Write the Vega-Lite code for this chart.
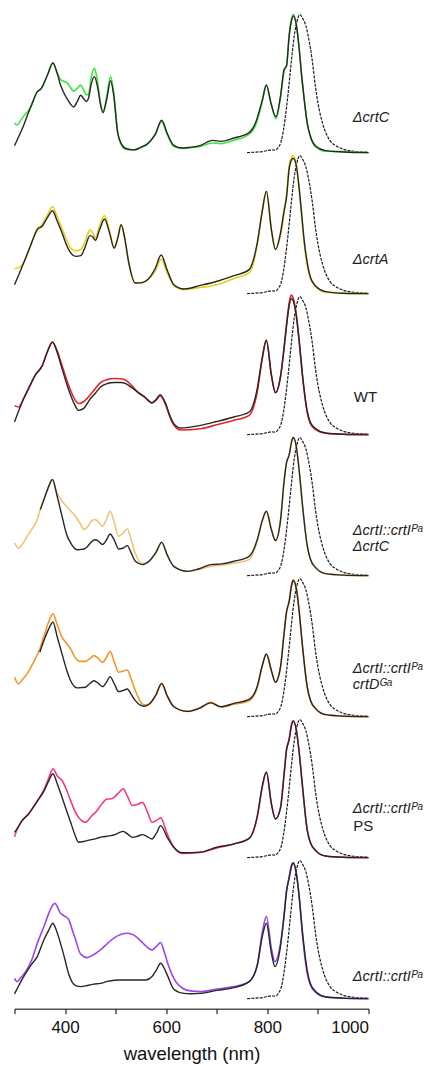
{
  "$schema": "https://vega.github.io/schema/vega-lite/v6.json",
  "padding": {"left": 10.5, "top": 11, "right": 0, "bottom": 0},
  "background": "white",
  "config": {"view": {"stroke": null}, "font": "Liberation Sans"},
  "bounds": "flush",
  "spacing": 0,
  "datasets": {
    "em": [
      {"x": 760, "y": 0.0}, {"x": 775, "y": 0.003}, {"x": 790, "y": 0.008}, {"x": 800, "y": 0.015}, {"x": 808, "y": 0.02}, {"x": 815, "y": 0.018}, {"x": 822, "y": 0.04}, {"x": 828, "y": 0.09}, {"x": 832, "y": 0.167}, {"x": 838, "y": 0.33}, {"x": 843, "y": 0.5}, {"x": 848, "y": 0.68}, {"x": 853, "y": 0.84}, {"x": 858, "y": 0.94}, {"x": 864, "y": 1.0}, {"x": 870, "y": 0.97}, {"x": 876, "y": 0.92}, {"x": 882, "y": 0.82}, {"x": 889, "y": 0.66}, {"x": 895, "y": 0.48}, {"x": 900, "y": 0.36}, {"x": 909, "y": 0.215}, {"x": 916, "y": 0.14}, {"x": 925, "y": 0.082}, {"x": 938, "y": 0.045}, {"x": 952, "y": 0.022}, {"x": 970, "y": 0.01}, {"x": 1000, "y": 0.003}
    ],
    "p1": [
      {"x": 300, "k": 0.05, "c": 0.215}, {"x": 305, "k": 0.09, "c": 0.2}, {"x": 315, "k": 0.17, "c": 0.25}, {"x": 332, "k": 0.33, "c": 0.33}, {"x": 345, "k": 0.44, "c": 0.44}, {"x": 352, "k": 0.46, "c": 0.46}, {"x": 365, "k": 0.56, "c": 0.56}, {"x": 376, "k": 0.65, "c": 0.65}, {"x": 384, "k": 0.58, "c": 0.58}, {"x": 391, "k": 0.49, "c": 0.53}, {"x": 398, "k": 0.43, "c": 0.515}, {"x": 404, "k": 0.39, "c": 0.505}, {"x": 411, "k": 0.35, "c": 0.47}, {"x": 417, "k": 0.33, "c": 0.445}, {"x": 424, "k": 0.37, "c": 0.465}, {"x": 431, "k": 0.415, "c": 0.49}, {"x": 437, "k": 0.39, "c": 0.45}, {"x": 442, "k": 0.37, "c": 0.42}, {"x": 446, "k": 0.39, "c": 0.42}, {"x": 452, "k": 0.5, "c": 0.55}, {"x": 458, "k": 0.55, "c": 0.61}, {"x": 464, "k": 0.48, "c": 0.52}, {"x": 470, "k": 0.35, "c": 0.36}, {"x": 475, "k": 0.29, "c": 0.29}, {"x": 482, "k": 0.38, "c": 0.4}, {"x": 490, "k": 0.52, "c": 0.55}, {"x": 496, "k": 0.42, "c": 0.44}, {"x": 504, "k": 0.145, "c": 0.15}, {"x": 512, "k": 0.06, "c": 0.05}, {"x": 520, "k": 0.03, "c": 0.025}, {"x": 536, "k": 0.02, "c": 0.02}, {"x": 550, "k": 0.04, "c": 0.035}, {"x": 563, "k": 0.065, "c": 0.06}, {"x": 578, "k": 0.13, "c": 0.13}, {"x": 591, "k": 0.234, "c": 0.225}, {"x": 602, "k": 0.14, "c": 0.13}, {"x": 615, "k": 0.053, "c": 0.045}, {"x": 632, "k": 0.034, "c": 0.03}, {"x": 650, "k": 0.04, "c": 0.035}, {"x": 668, "k": 0.053, "c": 0.045}, {"x": 691, "k": 0.089, "c": 0.07}, {"x": 708, "k": 0.082, "c": 0.065}, {"x": 734, "k": 0.106, "c": 0.09}, {"x": 763, "k": 0.143, "c": 0.13}, {"x": 777, "k": 0.22, "c": 0.2}, {"x": 790, "k": 0.38, "c": 0.37}, {"x": 798, "k": 0.49, "c": 0.49}, {"x": 807, "k": 0.36, "c": 0.36}, {"x": 817, "k": 0.26, "c": 0.245}, {"x": 826, "k": 0.41, "c": 0.4}, {"x": 833, "k": 0.6, "c": 0.59}, {"x": 838, "k": 0.63, "c": 0.63}, {"x": 843, "k": 0.84, "c": 0.85}, {"x": 848, "k": 0.96, "c": 0.97}, {"x": 851, "k": 0.99, "c": 1.0}, {"x": 857, "k": 0.93, "c": 0.94}, {"x": 863, "k": 0.75, "c": 0.75}, {"x": 868, "k": 0.55, "c": 0.55}, {"x": 873, "k": 0.38, "c": 0.38}, {"x": 879, "k": 0.21, "c": 0.21}, {"x": 885, "k": 0.12, "c": 0.115}, {"x": 896, "k": 0.046, "c": 0.04}, {"x": 915, "k": 0.015, "c": 0.01}, {"x": 950, "k": 0.005, "c": 0.008}, {"x": 1000, "k": 0.0, "c": 0.0}
    ],
    "p2": [
      {"x": 300, "k": 0.065, "c": 0.18}, {"x": 310, "k": 0.15, "c": 0.19}, {"x": 318, "k": 0.222, "c": 0.222}, {"x": 332, "k": 0.35, "c": 0.35}, {"x": 345, "k": 0.464, "c": 0.47}, {"x": 355, "k": 0.49, "c": 0.5}, {"x": 365, "k": 0.55, "c": 0.57}, {"x": 375, "k": 0.6, "c": 0.63}, {"x": 384, "k": 0.53, "c": 0.56}, {"x": 394, "k": 0.44, "c": 0.47}, {"x": 403, "k": 0.35, "c": 0.39}, {"x": 411, "k": 0.295, "c": 0.33}, {"x": 421, "k": 0.27, "c": 0.31}, {"x": 431, "k": 0.275, "c": 0.319}, {"x": 440, "k": 0.34, "c": 0.38}, {"x": 449, "k": 0.42, "c": 0.46}, {"x": 455, "k": 0.41, "c": 0.44}, {"x": 460, "k": 0.386, "c": 0.403}, {"x": 468, "k": 0.46, "c": 0.49}, {"x": 478, "k": 0.54, "c": 0.565}, {"x": 488, "k": 0.44, "c": 0.45}, {"x": 497, "k": 0.33, "c": 0.33}, {"x": 504, "k": 0.4, "c": 0.4}, {"x": 511, "k": 0.5, "c": 0.5}, {"x": 518, "k": 0.4, "c": 0.4}, {"x": 526, "k": 0.222, "c": 0.222}, {"x": 539, "k": 0.077, "c": 0.077}, {"x": 553, "k": 0.08, "c": 0.08}, {"x": 563, "k": 0.1, "c": 0.1}, {"x": 578, "k": 0.18, "c": 0.16}, {"x": 590, "k": 0.28, "c": 0.25}, {"x": 602, "k": 0.17, "c": 0.15}, {"x": 615, "k": 0.065, "c": 0.06}, {"x": 635, "k": 0.034, "c": 0.03}, {"x": 668, "k": 0.06, "c": 0.045}, {"x": 701, "k": 0.09, "c": 0.065}, {"x": 734, "k": 0.13, "c": 0.11}, {"x": 764, "k": 0.174, "c": 0.15}, {"x": 780, "k": 0.367, "c": 0.35}, {"x": 790, "k": 0.6, "c": 0.6}, {"x": 798, "k": 0.74, "c": 0.74}, {"x": 808, "k": 0.464, "c": 0.46}, {"x": 816, "k": 0.32, "c": 0.32}, {"x": 826, "k": 0.44, "c": 0.42}, {"x": 833, "k": 0.6, "c": 0.58}, {"x": 838, "k": 0.7, "c": 0.72}, {"x": 843, "k": 0.9, "c": 0.92}, {"x": 848, "k": 0.97, "c": 0.99}, {"x": 851, "k": 0.98, "c": 1.0}, {"x": 857, "k": 0.93, "c": 0.94}, {"x": 863, "k": 0.76, "c": 0.75}, {"x": 868, "k": 0.57, "c": 0.55}, {"x": 873, "k": 0.38, "c": 0.36}, {"x": 879, "k": 0.222, "c": 0.2}, {"x": 885, "k": 0.12, "c": 0.11}, {"x": 896, "k": 0.053, "c": 0.05}, {"x": 915, "k": 0.015, "c": 0.01}, {"x": 950, "k": 0.003, "c": 0.003}, {"x": 1000, "k": 0.0, "c": 0.0}
    ],
    "p3": [
      {"x": 300, "k": 0.092, "c": 0.21}, {"x": 308, "k": 0.17, "c": 0.2}, {"x": 318, "k": 0.26, "c": 0.26}, {"x": 330, "k": 0.35, "c": 0.35}, {"x": 341, "k": 0.43, "c": 0.43}, {"x": 355, "k": 0.5, "c": 0.5}, {"x": 365, "k": 0.6, "c": 0.6}, {"x": 375, "k": 0.67, "c": 0.67}, {"x": 384, "k": 0.6, "c": 0.61}, {"x": 394, "k": 0.478, "c": 0.5}, {"x": 403, "k": 0.37, "c": 0.4}, {"x": 411, "k": 0.285, "c": 0.32}, {"x": 420, "k": 0.21, "c": 0.25}, {"x": 427, "k": 0.176, "c": 0.225}, {"x": 437, "k": 0.19, "c": 0.24}, {"x": 450, "k": 0.26, "c": 0.29}, {"x": 460, "k": 0.3, "c": 0.335}, {"x": 470, "k": 0.345, "c": 0.377}, {"x": 484, "k": 0.37, "c": 0.4}, {"x": 497, "k": 0.377, "c": 0.406}, {"x": 510, "k": 0.377, "c": 0.405}, {"x": 520, "k": 0.37, "c": 0.394}, {"x": 532, "k": 0.34, "c": 0.355}, {"x": 543, "k": 0.31, "c": 0.31}, {"x": 558, "k": 0.27, "c": 0.27}, {"x": 572, "k": 0.23, "c": 0.23}, {"x": 580, "k": 0.255, "c": 0.25}, {"x": 588, "k": 0.29, "c": 0.28}, {"x": 599, "k": 0.225, "c": 0.215}, {"x": 607, "k": 0.14, "c": 0.13}, {"x": 615, "k": 0.08, "c": 0.07}, {"x": 629, "k": 0.048, "c": 0.034}, {"x": 668, "k": 0.067, "c": 0.043}, {"x": 700, "k": 0.095, "c": 0.072}, {"x": 734, "k": 0.128, "c": 0.104}, {"x": 764, "k": 0.164, "c": 0.14}, {"x": 780, "k": 0.333, "c": 0.31}, {"x": 790, "k": 0.56, "c": 0.55}, {"x": 798, "k": 0.683, "c": 0.683}, {"x": 808, "k": 0.43, "c": 0.43}, {"x": 816, "k": 0.304, "c": 0.304}, {"x": 826, "k": 0.42, "c": 0.42}, {"x": 833, "k": 0.62, "c": 0.63}, {"x": 838, "k": 0.79, "c": 0.8}, {"x": 843, "k": 0.93, "c": 0.95}, {"x": 847, "k": 0.986, "c": 1.01}, {"x": 851, "k": 0.97, "c": 0.99}, {"x": 857, "k": 0.87, "c": 0.87}, {"x": 863, "k": 0.68, "c": 0.67}, {"x": 869, "k": 0.45, "c": 0.44}, {"x": 879, "k": 0.164, "c": 0.16}, {"x": 885, "k": 0.09, "c": 0.08}, {"x": 896, "k": 0.043, "c": 0.035}, {"x": 915, "k": 0.012, "c": 0.01}, {"x": 950, "k": 0.003, "c": 0.003}, {"x": 1000, "k": 0.0, "c": 0.0}
    ],
    "p4": [
      {"x": 300, "k": null, "c": 0.237}, {"x": 308, "k": null, "c": 0.2}, {"x": 316, "k": null, "c": 0.23}, {"x": 325, "k": null, "c": 0.285}, {"x": 335, "k": null, "c": 0.34}, {"x": 345, "k": null, "c": 0.406}, {"x": 351, "k": 0.478, "c": 0.48}, {"x": 358, "k": 0.55, "c": 0.55}, {"x": 366, "k": 0.63, "c": 0.63}, {"x": 375, "k": 0.696, "c": 0.696}, {"x": 384, "k": 0.58, "c": 0.6}, {"x": 394, "k": 0.43, "c": 0.54}, {"x": 403, "k": 0.3, "c": 0.5}, {"x": 411, "k": 0.237, "c": 0.47}, {"x": 418, "k": 0.2, "c": 0.44}, {"x": 424, "k": 0.188, "c": 0.41}, {"x": 431, "k": 0.19, "c": 0.37}, {"x": 437, "k": 0.193, "c": 0.333}, {"x": 444, "k": 0.21, "c": 0.35}, {"x": 451, "k": 0.24, "c": 0.39}, {"x": 459, "k": 0.26, "c": 0.406}, {"x": 466, "k": 0.25, "c": 0.39}, {"x": 474, "k": 0.225, "c": 0.357}, {"x": 482, "k": 0.26, "c": 0.41}, {"x": 489, "k": 0.302, "c": 0.466}, {"x": 497, "k": 0.26, "c": 0.39}, {"x": 506, "k": 0.193, "c": 0.285}, {"x": 515, "k": 0.2, "c": 0.31}, {"x": 523, "k": 0.217, "c": 0.34}, {"x": 530, "k": 0.17, "c": 0.27}, {"x": 539, "k": 0.104, "c": 0.16}, {"x": 553, "k": 0.08, "c": 0.085}, {"x": 566, "k": 0.104, "c": 0.104}, {"x": 580, "k": 0.17, "c": 0.17}, {"x": 591, "k": 0.241, "c": 0.241}, {"x": 602, "k": 0.15, "c": 0.15}, {"x": 615, "k": 0.067, "c": 0.067}, {"x": 642, "k": 0.031, "c": 0.031}, {"x": 665, "k": 0.05, "c": 0.045}, {"x": 688, "k": 0.08, "c": 0.067}, {"x": 710, "k": 0.085, "c": 0.075}, {"x": 734, "k": 0.104, "c": 0.09}, {"x": 764, "k": 0.14, "c": 0.116}, {"x": 780, "k": 0.26, "c": 0.25}, {"x": 790, "k": 0.4, "c": 0.39}, {"x": 798, "k": 0.466, "c": 0.466}, {"x": 808, "k": 0.333, "c": 0.333}, {"x": 816, "k": 0.254, "c": 0.254}, {"x": 826, "k": 0.4, "c": 0.4}, {"x": 833, "k": 0.68, "c": 0.68}, {"x": 838, "k": 0.82, "c": 0.82}, {"x": 843, "k": 0.87, "c": 0.88}, {"x": 848, "k": 0.97, "c": 0.97}, {"x": 851, "k": 1.0, "c": 1.0}, {"x": 857, "k": 0.94, "c": 0.94}, {"x": 863, "k": 0.76, "c": 0.76}, {"x": 869, "k": 0.527, "c": 0.527}, {"x": 879, "k": 0.213, "c": 0.213}, {"x": 885, "k": 0.12, "c": 0.12}, {"x": 896, "k": 0.056, "c": 0.056}, {"x": 915, "k": 0.015, "c": 0.015}, {"x": 950, "k": 0.004, "c": 0.004}, {"x": 1000, "k": 0.0, "c": 0.0}
    ],
    "p5": [
      {"x": 300, "k": null, "c": 0.285}, {"x": 308, "k": null, "c": 0.237}, {"x": 316, "k": null, "c": 0.27}, {"x": 325, "k": null, "c": 0.31}, {"x": 337, "k": null, "c": 0.39}, {"x": 350, "k": 0.466, "c": 0.49}, {"x": 358, "k": 0.55, "c": 0.58}, {"x": 367, "k": 0.63, "c": 0.68}, {"x": 376, "k": 0.683, "c": 0.744}, {"x": 385, "k": 0.57, "c": 0.66}, {"x": 394, "k": 0.454, "c": 0.575}, {"x": 403, "k": 0.34, "c": 0.53}, {"x": 411, "k": 0.26, "c": 0.49}, {"x": 418, "k": 0.22, "c": 0.44}, {"x": 424, "k": 0.208, "c": 0.41}, {"x": 431, "k": 0.21, "c": 0.4}, {"x": 440, "k": 0.213, "c": 0.4}, {"x": 449, "k": 0.24, "c": 0.42}, {"x": 457, "k": 0.26, "c": 0.442}, {"x": 466, "k": 0.24, "c": 0.42}, {"x": 474, "k": 0.217, "c": 0.393}, {"x": 482, "k": 0.25, "c": 0.43}, {"x": 489, "k": 0.29, "c": 0.473}, {"x": 497, "k": 0.24, "c": 0.4}, {"x": 506, "k": 0.181, "c": 0.321}, {"x": 515, "k": 0.19, "c": 0.33}, {"x": 523, "k": 0.2, "c": 0.338}, {"x": 531, "k": 0.16, "c": 0.27}, {"x": 539, "k": 0.116, "c": 0.188}, {"x": 556, "k": 0.075, "c": 0.085}, {"x": 566, "k": 0.09, "c": 0.09}, {"x": 580, "k": 0.16, "c": 0.16}, {"x": 591, "k": 0.241, "c": 0.241}, {"x": 602, "k": 0.15, "c": 0.15}, {"x": 615, "k": 0.072, "c": 0.072}, {"x": 642, "k": 0.038, "c": 0.038}, {"x": 665, "k": 0.06, "c": 0.06}, {"x": 688, "k": 0.1, "c": 0.104}, {"x": 708, "k": 0.072, "c": 0.072}, {"x": 734, "k": 0.096, "c": 0.09}, {"x": 764, "k": 0.125, "c": 0.115}, {"x": 780, "k": 0.22, "c": 0.21}, {"x": 790, "k": 0.37, "c": 0.37}, {"x": 798, "k": 0.454, "c": 0.454}, {"x": 808, "k": 0.333, "c": 0.333}, {"x": 816, "k": 0.249, "c": 0.249}, {"x": 826, "k": 0.36, "c": 0.36}, {"x": 833, "k": 0.6, "c": 0.6}, {"x": 838, "k": 0.76, "c": 0.76}, {"x": 843, "k": 0.83, "c": 0.84}, {"x": 848, "k": 0.95, "c": 0.96}, {"x": 851, "k": 0.986, "c": 0.99}, {"x": 857, "k": 0.93, "c": 0.94}, {"x": 863, "k": 0.76, "c": 0.76}, {"x": 869, "k": 0.527, "c": 0.527}, {"x": 879, "k": 0.212, "c": 0.212}, {"x": 885, "k": 0.12, "c": 0.12}, {"x": 896, "k": 0.056, "c": 0.056}, {"x": 915, "k": 0.015, "c": 0.015}, {"x": 950, "k": 0.004, "c": 0.004}, {"x": 1000, "k": 0.0, "c": 0.0}
    ],
    "p6": [
      {"x": 300, "k": 0.183, "c": 0.152}, {"x": 307, "k": 0.22, "c": 0.22}, {"x": 315, "k": 0.268, "c": 0.268}, {"x": 328, "k": 0.317, "c": 0.317}, {"x": 338, "k": 0.37, "c": 0.37}, {"x": 348, "k": 0.425, "c": 0.425}, {"x": 358, "k": 0.48, "c": 0.49}, {"x": 367, "k": 0.55, "c": 0.57}, {"x": 376, "k": 0.607, "c": 0.643}, {"x": 385, "k": 0.53, "c": 0.59}, {"x": 394, "k": 0.437, "c": 0.558}, {"x": 403, "k": 0.34, "c": 0.49}, {"x": 411, "k": 0.256, "c": 0.413}, {"x": 419, "k": 0.17, "c": 0.34}, {"x": 427, "k": 0.111, "c": 0.29}, {"x": 440, "k": 0.12, "c": 0.256}, {"x": 452, "k": 0.13, "c": 0.3}, {"x": 463, "k": 0.14, "c": 0.34}, {"x": 473, "k": 0.15, "c": 0.39}, {"x": 483, "k": 0.155, "c": 0.425}, {"x": 490, "k": 0.159, "c": 0.425}, {"x": 497, "k": 0.165, "c": 0.437}, {"x": 506, "k": 0.18, "c": 0.47}, {"x": 515, "k": 0.19, "c": 0.498}, {"x": 524, "k": 0.17, "c": 0.44}, {"x": 533, "k": 0.147, "c": 0.377}, {"x": 543, "k": 0.155, "c": 0.385}, {"x": 553, "k": 0.167, "c": 0.4}, {"x": 563, "k": 0.15, "c": 0.33}, {"x": 572, "k": 0.135, "c": 0.256}, {"x": 581, "k": 0.18, "c": 0.27}, {"x": 589, "k": 0.232, "c": 0.288}, {"x": 602, "k": 0.147, "c": 0.172}, {"x": 615, "k": 0.075, "c": 0.075}, {"x": 632, "k": 0.035, "c": 0.031}, {"x": 668, "k": 0.04, "c": 0.038}, {"x": 700, "k": 0.075, "c": 0.07}, {"x": 734, "k": 0.1, "c": 0.099}, {"x": 764, "k": 0.14, "c": 0.14}, {"x": 780, "k": 0.3, "c": 0.292}, {"x": 790, "k": 0.52, "c": 0.51}, {"x": 798, "k": 0.62, "c": 0.618}, {"x": 808, "k": 0.389, "c": 0.389}, {"x": 816, "k": 0.28, "c": 0.28}, {"x": 826, "k": 0.36, "c": 0.36}, {"x": 833, "k": 0.6, "c": 0.6}, {"x": 838, "k": 0.78, "c": 0.79}, {"x": 843, "k": 0.85, "c": 0.86}, {"x": 848, "k": 0.96, "c": 0.97}, {"x": 851, "k": 0.99, "c": 0.99}, {"x": 857, "k": 0.93, "c": 0.93}, {"x": 863, "k": 0.76, "c": 0.76}, {"x": 869, "k": 0.534, "c": 0.534}, {"x": 879, "k": 0.196, "c": 0.196}, {"x": 885, "k": 0.11, "c": 0.11}, {"x": 896, "k": 0.05, "c": 0.05}, {"x": 915, "k": 0.012, "c": 0.012}, {"x": 950, "k": 0.003, "c": 0.003}, {"x": 1000, "k": 0.0, "c": 0.0}
    ],
    "p7": [
      {"x": 300, "k": 0.035, "c": 0.147}, {"x": 305, "k": 0.07, "c": 0.123}, {"x": 312, "k": 0.12, "c": 0.15}, {"x": 322, "k": 0.183, "c": 0.196}, {"x": 334, "k": 0.25, "c": 0.28}, {"x": 345, "k": 0.304, "c": 0.4}, {"x": 358, "k": 0.425, "c": 0.52}, {"x": 367, "k": 0.49, "c": 0.61}, {"x": 376, "k": 0.546, "c": 0.68}, {"x": 380, "k": 0.52, "c": 0.69}, {"x": 391, "k": 0.4, "c": 0.618}, {"x": 400, "k": 0.28, "c": 0.595}, {"x": 407, "k": 0.18, "c": 0.575}, {"x": 414, "k": 0.12, "c": 0.5}, {"x": 421, "k": 0.095, "c": 0.425}, {"x": 431, "k": 0.087, "c": 0.32}, {"x": 444, "k": 0.095, "c": 0.297}, {"x": 457, "k": 0.105, "c": 0.32}, {"x": 470, "k": 0.111, "c": 0.353}, {"x": 484, "k": 0.125, "c": 0.4}, {"x": 497, "k": 0.133, "c": 0.44}, {"x": 510, "k": 0.135, "c": 0.465}, {"x": 523, "k": 0.135, "c": 0.473}, {"x": 536, "k": 0.135, "c": 0.46}, {"x": 549, "k": 0.135, "c": 0.42}, {"x": 560, "k": 0.135, "c": 0.38}, {"x": 572, "k": 0.16, "c": 0.353}, {"x": 581, "k": 0.21, "c": 0.38}, {"x": 589, "k": 0.256, "c": 0.406}, {"x": 596, "k": 0.22, "c": 0.34}, {"x": 602, "k": 0.172, "c": 0.268}, {"x": 615, "k": 0.068, "c": 0.147}, {"x": 635, "k": 0.038, "c": 0.07}, {"x": 648, "k": 0.036, "c": 0.056}, {"x": 668, "k": 0.038, "c": 0.051}, {"x": 700, "k": 0.06, "c": 0.07}, {"x": 734, "k": 0.08, "c": 0.087}, {"x": 764, "k": 0.123, "c": 0.123}, {"x": 780, "k": 0.24, "c": 0.244}, {"x": 790, "k": 0.45, "c": 0.48}, {"x": 798, "k": 0.546, "c": 0.594}, {"x": 808, "k": 0.33, "c": 0.364}, {"x": 815, "k": 0.232, "c": 0.268}, {"x": 826, "k": 0.38, "c": 0.4}, {"x": 833, "k": 0.6, "c": 0.6}, {"x": 838, "k": 0.78, "c": 0.78}, {"x": 843, "k": 0.87, "c": 0.88}, {"x": 848, "k": 0.96, "c": 0.97}, {"x": 851, "k": 0.98, "c": 0.985}, {"x": 857, "k": 0.91, "c": 0.92}, {"x": 863, "k": 0.74, "c": 0.73}, {"x": 869, "k": 0.5, "c": 0.48}, {"x": 879, "k": 0.2, "c": 0.18}, {"x": 885, "k": 0.11, "c": 0.1}, {"x": 896, "k": 0.05, "c": 0.045}, {"x": 915, "k": 0.014, "c": 0.012}, {"x": 950, "k": 0.004, "c": 0.003}, {"x": 1000, "k": 0.0, "c": 0.0}
    ]
  },
  "vconcat": [
    {
      "width": 354, "height": 140.67,
      "encoding": {"x": {"field": "x", "type": "quantitative", "scale": {"domain": [300, 1000], "nice": false}, "axis": null}},
      "layer": [
        {"data": {"name": "em"}, "mark": {"type": "line", "interpolate": "monotone", "strokeDash": [3, 1.2], "strokeWidth": 1.2, "color": "#1a1a1a"}, "encoding": {"y": {"field": "y", "type": "quantitative", "scale": {"domain": [-0.0725, 0.9457], "nice": false, "zero": false}, "axis": null}}},
        {"data": {"name": "p1"}, "mark": {"type": "line", "interpolate": "monotone", "strokeWidth": 1.6, "color": "#3fe43f"}, "encoding": {"y": {"field": "c", "type": "quantitative", "scale": {"domain": [-0.0725, 0.9457], "nice": false, "zero": false}, "axis": null}}},
        {"data": {"name": "p1"}, "mark": {"type": "line", "interpolate": "monotone", "strokeWidth": 1.4, "color": "#262626"}, "encoding": {"y": {"field": "k", "type": "quantitative", "scale": {"domain": [-0.0725, 0.9457], "nice": false, "zero": false}, "axis": null}}},
        {"data": {"values": [{"x": 969, "y": 0.254, "t": "ΔcrtC"}]}, "mark": {"type": "text", "align": "left", "baseline": "middle", "fontSize": 14.5, "fontStyle": "italic", "color": "#222222"}, "encoding": {"y": {"field": "y", "type": "quantitative", "scale": {"domain": [-0.0725, 0.9457], "nice": false, "zero": false}, "axis": null}, "text": {"field": "t"}}}
      ]
    },
    {
      "width": 354, "height": 140.67,
      "encoding": {"x": {"field": "x", "type": "quantitative", "scale": {"domain": [300, 1000], "nice": false}, "axis": null}},
      "layer": [
        {"data": {"name": "em"}, "mark": {"type": "line", "interpolate": "monotone", "strokeDash": [3, 1.2], "strokeWidth": 1.2, "color": "#1a1a1a"}, "encoding": {"y": {"field": "y", "type": "quantitative", "scale": {"domain": [-0.0725, 0.9457], "nice": false, "zero": false}, "axis": null}}},
        {"data": {"name": "p2"}, "mark": {"type": "line", "interpolate": "monotone", "strokeWidth": 1.6, "color": "#e8d01a"}, "encoding": {"y": {"field": "c", "type": "quantitative", "scale": {"domain": [-0.0725, 0.9457], "nice": false, "zero": false}, "axis": null}}},
        {"data": {"name": "p2"}, "mark": {"type": "line", "interpolate": "monotone", "strokeWidth": 1.4, "color": "#262626"}, "encoding": {"y": {"field": "k", "type": "quantitative", "scale": {"domain": [-0.0725, 0.9457], "nice": false, "zero": false}, "axis": null}}},
        {"data": {"values": [{"x": 969, "y": 0.246, "t": "ΔcrtA"}]}, "mark": {"type": "text", "align": "left", "baseline": "middle", "fontSize": 14.5, "fontStyle": "italic", "color": "#222222"}, "encoding": {"y": {"field": "y", "type": "quantitative", "scale": {"domain": [-0.0725, 0.9457], "nice": false, "zero": false}, "axis": null}, "text": {"field": "t"}}}
      ]
    },
    {
      "width": 354, "height": 140.67,
      "encoding": {"x": {"field": "x", "type": "quantitative", "scale": {"domain": [300, 1000], "nice": false}, "axis": null}},
      "layer": [
        {"data": {"name": "em"}, "mark": {"type": "line", "interpolate": "monotone", "strokeDash": [3, 1.2], "strokeWidth": 1.2, "color": "#1a1a1a"}, "encoding": {"y": {"field": "y", "type": "quantitative", "scale": {"domain": [-0.0725, 0.9457], "nice": false, "zero": false}, "axis": null}}},
        {"data": {"name": "p3"}, "mark": {"type": "line", "interpolate": "monotone", "strokeWidth": 1.6, "color": "#e8232a"}, "encoding": {"y": {"field": "c", "type": "quantitative", "scale": {"domain": [-0.0725, 0.9457], "nice": false, "zero": false}, "axis": null}}},
        {"data": {"name": "p3"}, "mark": {"type": "line", "interpolate": "monotone", "strokeWidth": 1.4, "color": "#262626"}, "encoding": {"y": {"field": "k", "type": "quantitative", "scale": {"domain": [-0.0725, 0.9457], "nice": false, "zero": false}, "axis": null}}},
        {"data": {"values": [{"x": 971, "y": 0.27, "t": "WT"}]}, "mark": {"type": "text", "align": "left", "baseline": "middle", "fontSize": 15, "color": "#222222"}, "encoding": {"y": {"field": "y", "type": "quantitative", "scale": {"domain": [-0.0725, 0.9457], "nice": false, "zero": false}, "axis": null}, "text": {"field": "t"}}}
      ]
    },
    {
      "width": 354, "height": 140.67,
      "encoding": {"x": {"field": "x", "type": "quantitative", "scale": {"domain": [300, 1000], "nice": false}, "axis": null}},
      "layer": [
        {"data": {"name": "em"}, "mark": {"type": "line", "interpolate": "monotone", "strokeDash": [3, 1.2], "strokeWidth": 1.2, "color": "#1a1a1a"}, "encoding": {"y": {"field": "y", "type": "quantitative", "scale": {"domain": [-0.0725, 0.9457], "nice": false, "zero": false}, "axis": null}}},
        {"data": {"name": "p4"}, "mark": {"type": "line", "interpolate": "monotone", "strokeWidth": 1.6, "color": "#f0c474"}, "encoding": {"y": {"field": "c", "type": "quantitative", "scale": {"domain": [-0.0725, 0.9457], "nice": false, "zero": false}, "axis": null}}},
        {"data": {"name": "p4"}, "mark": {"type": "line", "interpolate": "monotone", "strokeWidth": 1.4, "color": "#262626"}, "encoding": {"y": {"field": "k", "type": "quantitative", "scale": {"domain": [-0.0725, 0.9457], "nice": false, "zero": false}, "axis": null}}},
        {"data": {"values": [{"x": 969, "y": 0.326, "t": "ΔcrtI::crtIᴾᵃ"}, {"x": 969, "y": 0.205, "t": "ΔcrtC"}]}, "mark": {"type": "text", "align": "left", "baseline": "middle", "fontSize": 14.5, "fontStyle": "italic", "color": "#222222"}, "encoding": {"y": {"field": "y", "type": "quantitative", "scale": {"domain": [-0.0725, 0.9457], "nice": false, "zero": false}, "axis": null}, "text": {"field": "t"}}}
      ]
    },
    {
      "width": 354, "height": 140.67,
      "encoding": {"x": {"field": "x", "type": "quantitative", "scale": {"domain": [300, 1000], "nice": false}, "axis": null}},
      "layer": [
        {"data": {"name": "em"}, "mark": {"type": "line", "interpolate": "monotone", "strokeDash": [3, 1.2], "strokeWidth": 1.2, "color": "#1a1a1a"}, "encoding": {"y": {"field": "y", "type": "quantitative", "scale": {"domain": [-0.0725, 0.9457], "nice": false, "zero": false}, "axis": null}}},
        {"data": {"name": "p5"}, "mark": {"type": "line", "interpolate": "monotone", "strokeWidth": 1.6, "color": "#f5952a"}, "encoding": {"y": {"field": "c", "type": "quantitative", "scale": {"domain": [-0.0725, 0.9457], "nice": false, "zero": false}, "axis": null}}},
        {"data": {"name": "p5"}, "mark": {"type": "line", "interpolate": "monotone", "strokeWidth": 1.4, "color": "#262626"}, "encoding": {"y": {"field": "k", "type": "quantitative", "scale": {"domain": [-0.0725, 0.9457], "nice": false, "zero": false}, "axis": null}}},
        {"data": {"values": [{"x": 969, "y": 0.346, "t": "ΔcrtI::crtIᴾᵃ"}, {"x": 969, "y": 0.23, "t": "crtDᴳᵃ"}]}, "mark": {"type": "text", "align": "left", "baseline": "middle", "fontSize": 14.5, "fontStyle": "italic", "color": "#222222"}, "encoding": {"y": {"field": "y", "type": "quantitative", "scale": {"domain": [-0.0725, 0.9457], "nice": false, "zero": false}, "axis": null}, "text": {"field": "t"}}}
      ]
    },
    {
      "width": 354, "height": 140.67,
      "encoding": {"x": {"field": "x", "type": "quantitative", "scale": {"domain": [300, 1000], "nice": false}, "axis": null}},
      "layer": [
        {"data": {"name": "em"}, "mark": {"type": "line", "interpolate": "monotone", "strokeDash": [3, 1.2], "strokeWidth": 1.2, "color": "#1a1a1a"}, "encoding": {"y": {"field": "y", "type": "quantitative", "scale": {"domain": [-0.0725, 0.9457], "nice": false, "zero": false}, "axis": null}}},
        {"data": {"name": "p6"}, "mark": {"type": "line", "interpolate": "monotone", "strokeWidth": 1.6, "color": "#ee3c86"}, "encoding": {"y": {"field": "c", "type": "quantitative", "scale": {"domain": [-0.0725, 0.9457], "nice": false, "zero": false}, "axis": null}}},
        {"data": {"name": "p6"}, "mark": {"type": "line", "interpolate": "monotone", "strokeWidth": 1.4, "color": "#262626"}, "encoding": {"y": {"field": "k", "type": "quantitative", "scale": {"domain": [-0.0725, 0.9457], "nice": false, "zero": false}, "axis": null}}},
        {"data": {"values": [{"x": 969, "y": 0.353, "t": "ΔcrtI::crtIᴾᵃ"}]}, "mark": {"type": "text", "align": "left", "baseline": "middle", "fontSize": 14.5, "fontStyle": "italic", "color": "#222222"}, "encoding": {"y": {"field": "y", "type": "quantitative", "scale": {"domain": [-0.0725, 0.9457], "nice": false, "zero": false}, "axis": null}, "text": {"field": "t"}}},
        {"data": {"values": [{"x": 970, "y": 0.232, "t": "PS"}]}, "mark": {"type": "text", "align": "left", "baseline": "middle", "fontSize": 15, "color": "#222222"}, "encoding": {"y": {"field": "y", "type": "quantitative", "scale": {"domain": [-0.0725, 0.9457], "nice": false, "zero": false}, "axis": null}, "text": {"field": "t"}}}
      ]
    },
    {
      "width": 354, "height": 140.67,
      "encoding": {"x": {"field": "x", "type": "quantitative", "scale": {"domain": [300, 1000], "nice": false}, "title": "wavelength (nm)", "axis": {"values": [300, 400, 500, 600, 700, 800, 900, 1000], "labelExpr": "datum.value % 200 == 0 ? datum.label : ''", "format": "d", "grid": false, "domainColor": "#000000", "tickColor": "#000000", "tickSize": 5, "labelFontSize": 17, "labelColor": "#111111", "labelPadding": 6, "titleFontSize": 18.5, "titleFontWeight": "normal", "titleColor": "#111111", "titlePadding": 9}}},
      "layer": [
        {"data": {"name": "em"}, "mark": {"type": "line", "interpolate": "monotone", "strokeDash": [3, 1.2], "strokeWidth": 1.2, "color": "#1a1a1a"}, "encoding": {"y": {"field": "y", "type": "quantitative", "scale": {"domain": [-0.0725, 0.9457], "nice": false, "zero": false}, "axis": null}}},
        {"data": {"name": "p7"}, "mark": {"type": "line", "interpolate": "monotone", "strokeWidth": 1.6, "color": "#9a46ee"}, "encoding": {"y": {"field": "c", "type": "quantitative", "scale": {"domain": [-0.0725, 0.9457], "nice": false, "zero": false}, "axis": null}}},
        {"data": {"name": "p7"}, "mark": {"type": "line", "interpolate": "monotone", "strokeWidth": 1.4, "color": "#262626"}, "encoding": {"y": {"field": "k", "type": "quantitative", "scale": {"domain": [-0.0725, 0.9457], "nice": false, "zero": false}, "axis": null}}},
        {"data": {"values": [{"x": 969, "y": 0.16, "t": "ΔcrtI::crtIᴾᵃ"}]}, "mark": {"type": "text", "align": "left", "baseline": "middle", "fontSize": 14.5, "fontStyle": "italic", "color": "#222222"}, "encoding": {"y": {"field": "y", "type": "quantitative", "scale": {"domain": [-0.0725, 0.9457], "nice": false, "zero": false}, "axis": null}, "text": {"field": "t"}}}
      ]
    }
  ]
}
